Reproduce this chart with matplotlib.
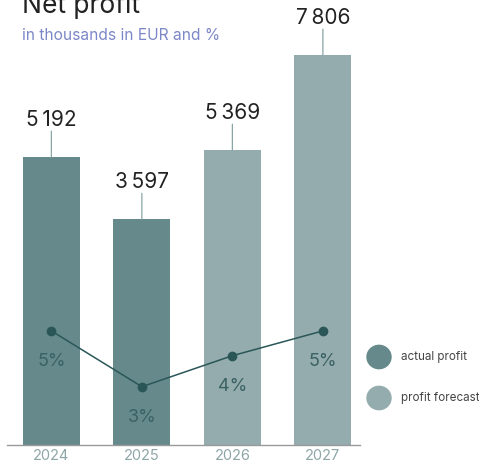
import matplotlib.pyplot as plt
from matplotlib.patches import Circle

plt.rcParams['font.family'] = ['Inter', 'DejaVu Sans']

years = ["2024", "2025", "2026", "2027"]
profit = [5192, 3597, 5369, 7806]
profit_labels = ["5\u2009192", "3\u2009597", "5\u2009369", "7\u2009806"]
margin = [5.2, 3.4, 4.4, 5.2]
margin_labels = ["5%", "3%", "4%", "5%"]
is_forecast = [False, False, True, True]

c_actual = "#668a8b"
c_forecast = "#94acad"
c_line = "#2b5657"

W, H = 479, 465
fig = plt.figure(figsize=(W / 100, H / 100), dpi=100)
ax = fig.add_axes([7 / W, 20 / H, 353 / W, 445 / H])

ymin, ymax = -2190, 9220
ax.set_xlim(-0.49, 3.41)
ax.set_ylim(ymin, ymax)
x = list(range(len(years)))
colors = [c_forecast if f else c_actual for f in is_forecast]
ax.bar(x, [v - ymin for v in profit], bottom=ymin, width=0.63, color=colors, zorder=1)

for xi, v, lab in zip(x, profit, profit_labels):
    ax.annotate("", xy=(xi, v), xytext=(0, 26), textcoords="offset pixels",
                xycoords="data",
                arrowprops=dict(arrowstyle="-", color="#8aa5a6", lw=0.9,
                                shrinkA=0, shrinkB=0))
    ax.annotate(lab, xy=(xi, v), xytext=(0, 37), textcoords="offset pixels",
                ha="center", va="center", fontsize=15, color="#222222")

for s in ["top", "right", "left"]:
    ax.spines[s].set_visible(False)
ax.spines["bottom"].set_color("#999999")
ax.spines["bottom"].set_linewidth(1.0)
ax.set_yticks([])
ax.set_xticks(x)
ax.set_xticklabels(years, fontsize=10.5, color="#8ea5a6")
ax.tick_params(axis="x", length=0, pad=3)

ax2 = ax.twinx()
ax2.set_ylim(1.52, 15.87)
ax2.plot(x, margin, color=c_line, lw=1.1, marker="o", markersize=6, zorder=3)
for xi, m, lab in zip(x, margin, margin_labels):
    ax2.annotate(lab, xy=(xi, m), xytext=(0, -31), textcoords="offset pixels",
                 ha="center", va="center", fontsize=13, color="#3a6163")
ax2.axis("off")

fig.text(22 / W, 1 - 13 / H, "Net profit", fontsize=19, color="#222222",
         ha="left", va="baseline")
fig.text(22 / W, 1 - 35 / H, "in thousands in EUR and %", fontsize=11.2,
         color="#7c87c8", ha="left", va="center")

# legend
for yy, col, lab in [(357, c_actual, "actual profit"), (398, c_forecast, "profit forecast")]:
    fig.patches.append(Circle((379 / W, 1 - yy / H), 12 / W, color=col,
                              transform=fig.transFigure, figure=fig))
    fig.text(401 / W, 1 - yy / H, lab, fontsize=8.4, color="#444444",
             ha="left", va="center")

plt.savefig("out.png", dpi=100)
